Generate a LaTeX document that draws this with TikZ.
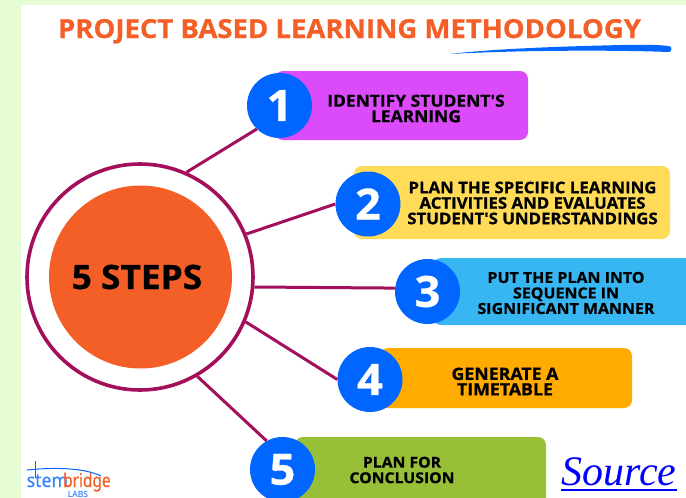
\documentclass[tikz,border=0pt]{standalone}
\usepackage{fontspec}
\setmainfont{Open Sans}[Ligatures=TeXOff,BoldFeatures={FakeBold=0.7,FakeStretch=1.05}]
\newfontfamily\srcfont{Liberation Serif}
\newfontfamily\logoA{Noto Sans}[FakeStretch=0.93,FakeBold=0.4]
\newfontfamily\logoB{Noto Sans}[FakeStretch=0.81,FakeBold=0.4]
\newfontfamily\logofont{Noto Sans}
\definecolor{pagegreen}{HTML}{E6FCD4}
\definecolor{titleorange}{HTML}{F45F27}
\definecolor{wine}{HTML}{A30F5B}
\definecolor{discblue}{HTML}{0066FF}
\definecolor{barviolet}{HTML}{DB4BFA}
\definecolor{baryellow}{HTML}{FFDB58}
\definecolor{barsky}{HTML}{38B6F1}
\definecolor{baramber}{HTML}{FFAB00}
\definecolor{bargreen}{HTML}{97BF38}
\tikzset{
  x=1pt,y=-1pt,
  numdisc/.style={circle,fill=discblue,minimum size=65pt,inner sep=0pt,text=white,font=\fontsize{43}{43}\selectfont\bfseries},
  stepbar/.style={fill=#1,rounded corners=8pt},
  label/.style={align=center,font=\fontsize{#1}{15.5}\selectfont\bfseries,text=black,inner sep=0pt},
  link/.style={draw=wine,line width=3pt},
}
\begin{document}
\begin{tikzpicture}
\useasboundingbox (0,0) rectangle (686,498);
\clip (0,0) rectangle (686,498);
\fill[pagegreen] (0,0) rectangle (686,498);
\fill[white] (21,5) rectangle (686,498);

\node[anchor=base,font=\fontsize{26.2}{26.2}\selectfont\bfseries,text=titleorange,inner sep=0pt] (title) at (349.5,38) {PROJECT BASED LEARNING METHODOLOGY};
\fill[discblue] (450,54) .. controls (500,48) and (580,46) .. (622,45) .. controls (650,44.5) and (668,45) .. (671,47) .. controls (672,50) and (671,52) .. (668,52) .. controls (620,50) and (520,50) .. (450,54) -- cycle;

\fill[stepbar=barviolet] (275,71) rectangle (528,140);
\fill[stepbar=baryellow] (354,166) rectangle (670,239);
\fill[stepbar=barsky] (433,258) rectangle (700,325);
\fill[stepbar=baramber] (380,348) rectangle (632,408);
\fill[stepbar=bargreen] (295,437) rectangle (546,510);

\node[circle,draw=wine,line width=3.6pt,minimum size=226pt,inner sep=0pt] (ring) at (140,277) {};
\node[circle,fill=titleorange,minimum size=183pt,inner sep=0pt] (hub) at (140.5,277) {};
\node[inner sep=0pt,font=\fontsize{33.6}{33.6}\selectfont\bfseries] (hubtext) at (137,277) {5 STEPS};

\node[numdisc] (d1) at (279.5,105.5) {1};
\node[numdisc] (d2) at (368,204) {2};
\node[numdisc] (d3) at (427.5,291.5) {3};
\node[numdisc] (d4) at (370,379.5) {4};
\node[numdisc] (d5) at (282.5,469.5) {5};

\draw[link] (ring.66) -- (d1.226);
\draw[link] (ring.22.6) -- (d2.180);
\draw[link] (ring.-5.5) -- (d3.174);
\draw[link] (ring.-23.6) -- (d4.180);
\draw[link] (ring.-60.8) -- (d5.119);

\node[label=16.6] (t1) at (416,108.5) {IDENTIFY STUDENT'S\\LEARNING};
\node[label=16] (t2) at (532.5,203) {PLAN THE SPECIFIC LEARNING\\ACTIVITIES AND EVALUATES\\STUDENT'S UNDERSTANDINGS};
\node[label=15.2] (t3) at (566,293) {PUT THE PLAN INTO\\SEQUENCE IN\\SIGNIFICANT MANNER};
\node[label=16.9] (t4) at (505,381.5) {GENERATE A\\TIMETABLE};
\node[label=15] (t5) at (402,470) {PLAN FOR\\CONCLUSION};

\node[anchor=base,inner sep=0pt,text=blue,font=\fontsize{42}{42}\selectfont\srcfont\itshape] (src) at (619,485) {Source};
\draw[blue,line width=2pt] (561,489.5) -- (677,489.5);

% logo
\node[anchor=base west,inner sep=0pt,text=discblue!80!white,font=\fontsize{19}{19}\selectfont\logoA] (lg1) at (26.5,487) {stem};
\node[anchor=base west,inner sep=0pt,text=titleorange,font=\fontsize{19}{19}\selectfont\logoB] (lg2) at (63,487) {bridge};
\node[anchor=base,inner sep=0pt,text=discblue,font=\fontsize{8.5}{8.5}\selectfont\logofont\bfseries] (lg3) at (78,497) {LABS};
\draw[discblue,line width=1pt] (35,461) -- (35,478);
\draw[discblue,line width=1pt] (27,470) .. controls (55,467) and (85,468) .. (101,476);
\end{tikzpicture}
\end{document}
